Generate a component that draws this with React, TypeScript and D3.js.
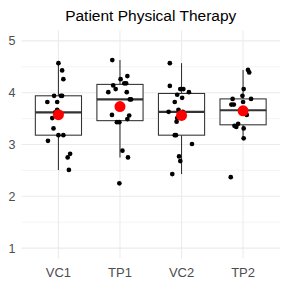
import React from 'react';
import * as d3 from 'd3';

// groups on the x axis
const groups = ['VC1', 'TP1', 'VC2', 'TP2'];

// scores per group
const vc1Scores = [4.57, 4.43, 4.26, 3.94, 3.94, 3.94, 3.82, 3.82, 3.67, 3.62, 3.58, 3.51, 3.31, 3.18, 3.18, 3.07, 2.82, 2.75, 2.51];
const tp1Scores = [4.63, 4.32, 4.26, 4.18, 4.18, 4.14, 4.07, 4.01, 4.01, 3.87, 3.87, 3.57, 3.56, 3.49, 3.43, 3.43, 2.88, 2.75, 2.25];
const vc2Scores = [4.57, 4.13, 4.07, 4.07, 4.01, 3.96, 3.82, 3.67, 3.63, 3.63, 3.51, 3.44, 3.18, 3.18, 3.01, 2.77, 2.68, 2.43, 3.9];
const tp2Scores = [4.44, 4.39, 4.07, 3.94, 3.88, 3.88, 3.82, 3.77, 3.77, 3.64, 3.57, 3.40, 3.36, 3.34, 3.31, 3.12, 2.37, 3.66, 3.62];

// horizontal jitter of each point, as a share of the group step
const vc1Jitter = [0, 0.06, 0.08, -0.07, 0.04, 0.06, -0.18, -0.02, -0.02, -0.05, 0.01, -0.1, -0.08, 0, 0.08, -0.17, 0.19, 0.15, 0.17];
const tp1Jitter = [-0.125, 0.12, 0.01, 0.07, 0.1, -0.11, -0.07, -0.19, 0.11, 0.16, 0.18, -0.13, 0.15, 0.12, -0.05, -0.01, 0.04, 0.13, -0.01];
const vc2Jitter = [-0.19, -0.19, -0.02, 0.03, 0.12, -0.07, -0.11, -0.05, -0.21, 0.02, -0.07, -0.08, -0.11, -0.09, 0.17, -0.04, -0.02, -0.15, 0.01];
const tp2Jitter = [0.08, 0.1, 0.01, -0.01, -0.17, 0.13, 0, -0.19, -0.15, -0.01, 0.06, -0.08, -0.14, -0.11, 0.01, 0.01, -0.2, 0.02, -0.02];

const scores = [vc1Scores, tp1Scores, vc2Scores, tp2Scores];
const jitters = [vc1Jitter, tp1Jitter, vc2Jitter, tp2Jitter];

const yTicks = [1, 2, 3, 4, 5];
const yMinor = [1.5, 2.5, 3.5, 4.5];

const title = 'Patient Physical Therapy';

const width = 288;
const height = 288;
const margin = { top: 30.5, right: 8, bottom: 29.5, left: 21.5 };
const font = '"Liberation Sans", Arial, sans-serif';

function boxStats(vals: number[]) {
  const s = vals.slice().sort(d3.ascending);
  const q1 = d3.quantile(s, 0.25) as number;
  const med = d3.quantile(s, 0.5) as number;
  const q3 = d3.quantile(s, 0.75) as number;
  const iqr = q3 - q1;
  const lo = d3.min(s.filter((v) => v >= q1 - 1.5 * iqr)) as number;
  const hi = d3.max(s.filter((v) => v <= q3 + 1.5 * iqr)) as number;
  return { q1, med, q3, lo, hi, mean: d3.mean(s) as number };
}

export default function App() {
  const x = d3
    .scalePoint<string>()
    .domain(groups)
    .range([margin.left, width - margin.right])
    .padding(0.6);
  const step = x.step();

  const y = d3
    .scaleLinear()
    .domain([0.8, 5.2])
    .range([height - margin.bottom, margin.top]);

  const boxW = step * 0.75;
  const grid = '#EBEBEB';
  const dark = '#333333';

  return (
    <svg width={width} height={height} style={{ position: 'absolute', left: 0, top: 0, background: '#fff' }}>
      {/* grid */}
      {yMinor.map((t) => (
        <line key={'m' + t} x1={margin.left} x2={width - margin.right} y1={y(t)} y2={y(t)} stroke={grid} strokeWidth={0.55} />
      ))}
      {yTicks.map((t) => (
        <line key={'g' + t} x1={margin.left} x2={width - margin.right} y1={y(t)} y2={y(t)} stroke={grid} strokeWidth={1.07} />
      ))}
      {groups.map((g) => (
        <line key={'v' + g} x1={x(g)} x2={x(g)} y1={margin.top} y2={height - margin.bottom} stroke={grid} strokeWidth={1.07} />
      ))}

      {/* boxes */}
      {groups.map((g, i) => {
        const st = boxStats(scores[i]);
        const cx = x(g) as number;
        return (
          <g key={'b' + g}>
            <line x1={cx} x2={cx} y1={y(st.hi)} y2={y(st.q3)} stroke={dark} strokeWidth={1.07} />
            <line x1={cx} x2={cx} y1={y(st.q1)} y2={y(st.lo)} stroke={dark} strokeWidth={1.07} />
            <rect x={cx - boxW / 2} y={y(st.q3)} width={boxW} height={y(st.q1) - y(st.q3)} fill="#fff" stroke={dark} strokeWidth={1.07} />
            <line x1={cx - boxW / 2} x2={cx + boxW / 2} y1={y(st.med)} y2={y(st.med)} stroke={dark} strokeWidth={2.13} />
          </g>
        );
      })}

      {/* jittered points */}
      {groups.map((g, i) =>
        scores[i].map((v, j) => (
          <circle key={g + j} cx={(x(g) as number) + jitters[i][j] * step} cy={y(v)} r={2.35} fill="#000" />
        ))
      )}

      {/* means */}
      {groups.map((g, i) => (
        <circle key={'mean' + g} cx={x(g)} cy={y(d3.mean(scores[i]) as number)} r={5.5} fill="#FF0000" />
      ))}

      {/* axis labels */}
      {yTicks.map((t) => (
        <text key={'yl' + t} x={margin.left - 6} y={y(t)} dy="0.36em" textAnchor="end" fontFamily={font} fontSize={12.5} fill="#4D4D4D">
          {t}
        </text>
      ))}
      {groups.map((g) => (
        <text key={'xl' + g} x={x(g)} y={height - margin.bottom + 18} textAnchor="middle" fontFamily={font} fontSize={13} fill="#4D4D4D">
          {g}
        </text>
      ))}

      <text x={(margin.left + width - margin.right) / 2} y={21} textAnchor="middle" fontFamily={font} fontSize={15.5} fill="#000">
        {title}
      </text>
    </svg>
  );
}
